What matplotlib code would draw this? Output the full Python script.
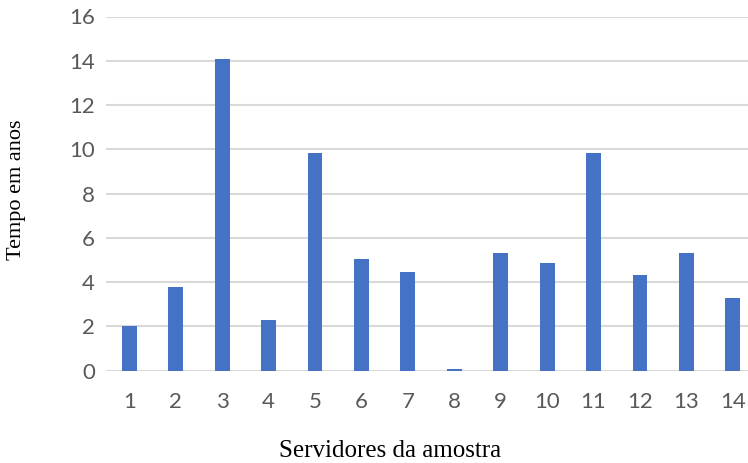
import numpy as np
import matplotlib.pyplot as plt

# Tempo de uso de cada servidor da amostra (anos)
servidores = list(range(1, 15))
tempo_anos = [2.0, 3.8, 14.1, 2.3, 9.85, 5.05, 4.47, 0.08, 5.32, 4.87, 9.85, 4.33, 5.32, 3.29]
y_ticks = [0, 2, 4, 6, 8, 10, 12, 14, 16]

cor_barra = '#4472C4'
cor_grade = '#d9d9d9'
cor_texto = '#595959'

fig = plt.figure(figsize=(7.48, 4.63), dpi=100)
ax = fig.add_axes([106 / 748, 1 - 370.7 / 463, 650 / 748, (370.7 - 16.5) / 463])

ax.bar(servidores, tempo_anos, width=0.32, color=cor_barra, zorder=3)

ax.set_xlim(0.5, 14.5)
ax.set_ylim(0, 16)
ax.set_yticks(y_ticks)
ax.set_xticks(servidores)
ax.grid(axis='y', color=cor_grade, linewidth=1.5, zorder=0)
ax.set_axisbelow(True)
for s in ax.spines.values():
    s.set_visible(False)
ax.tick_params(length=0, labelsize=16, labelcolor=cor_texto)
ax.tick_params(axis='y', pad=8)
ax.tick_params(axis='x', pad=15.5)
for lab in ax.get_xticklabels() + ax.get_yticklabels():
    lab.set_family('Lato')

# rótulos dos eixos
fig.text(390 / 748, 1 - 457 / 463, 'Servidores da amostra', ha='center', va='baseline',
         family='Liberation Serif', fontsize=18, color='black')
fig.text(17 / 748, 1 - 190 / 463, 'Tempo em anos', ha='center', va='center', rotation=90,
         family='Liberation Serif', fontsize=16, color='black')

fig.savefig('out.png', dpi=100)
